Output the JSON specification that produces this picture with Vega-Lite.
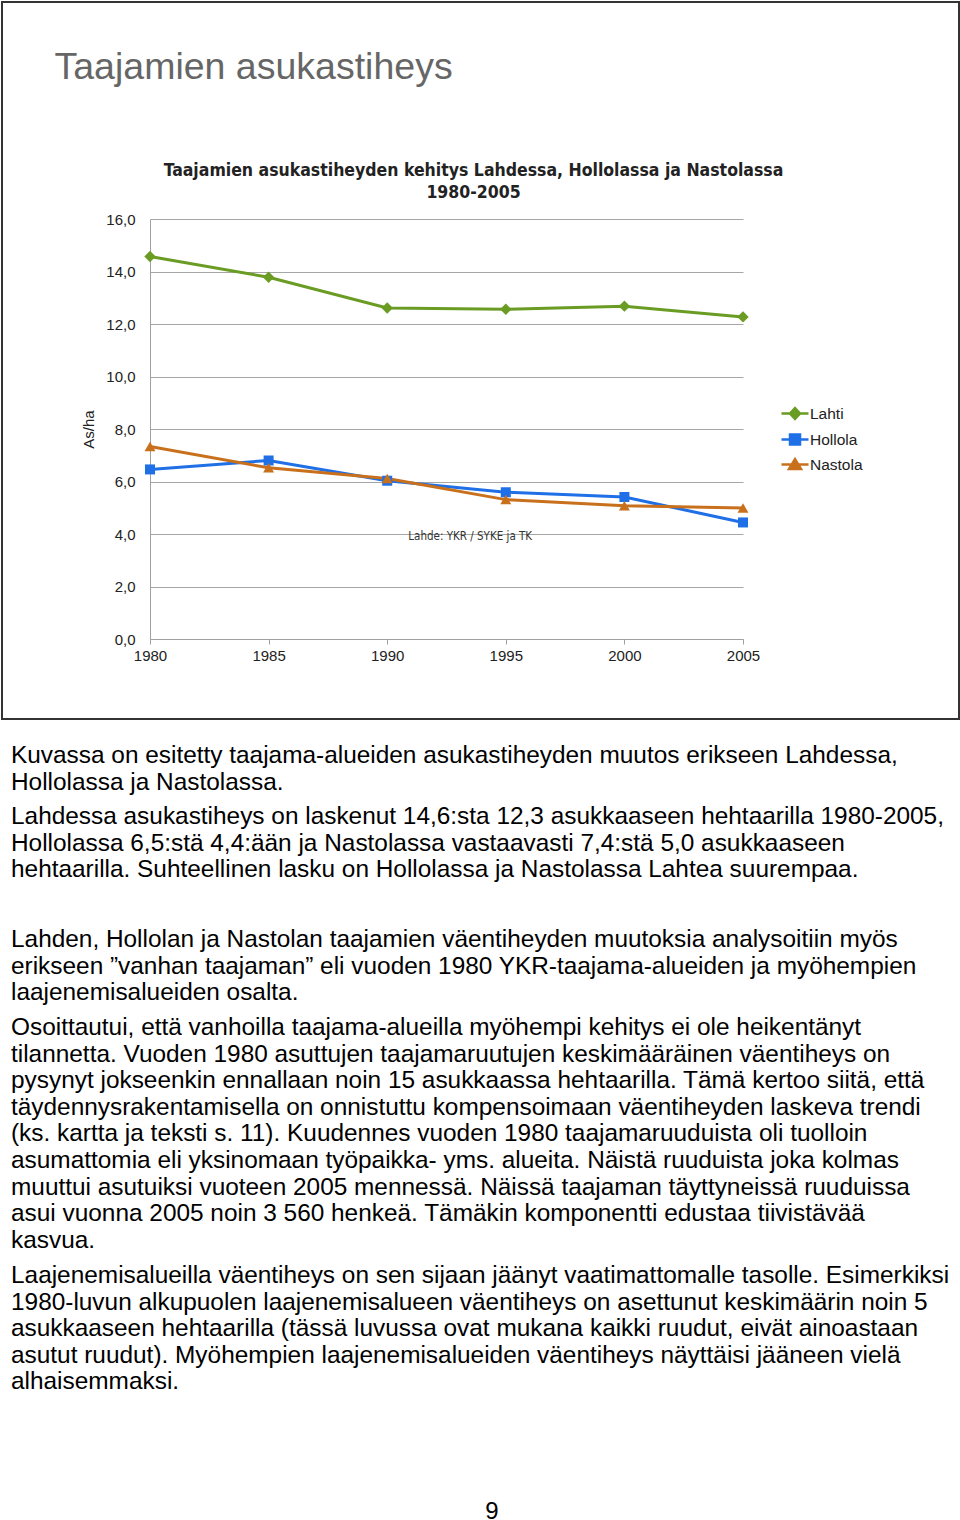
{
  "$schema": "https://vega.github.io/schema/vega-lite/v6.json",
  "background": "white",
  "padding": {"left": 1, "top": 1, "right": 0, "bottom": 0},
  "spacing": 0,
  "config": {
    "view": {"stroke": null},
    "title": {"orient": "bottom", "anchor": "start", "frame": "group", "offset": 0, "dx": 9, "fontSize": 24.4, "lineHeight": 26.6, "font": "Liberation Sans", "fontWeight": "normal", "color": "#000000"}
  },
  "vconcat": [
    {
      "width": 957,
      "height": 717,
      "view": {"stroke": "#333333", "strokeWidth": 2},
      "data": {"values": [
        {"year": 1980, "city": "Lahti", "value": 14.57},
        {"year": 1985, "city": "Lahti", "value": 13.78},
        {"year": 1990, "city": "Lahti", "value": 12.61},
        {"year": 1995, "city": "Lahti", "value": 12.56},
        {"year": 2000, "city": "Lahti", "value": 12.68},
        {"year": 2005, "city": "Lahti", "value": 12.27},
        {"year": 1980, "city": "Hollola", "value": 6.46},
        {"year": 1985, "city": "Hollola", "value": 6.8},
        {"year": 1990, "city": "Hollola", "value": 6.03},
        {"year": 1995, "city": "Hollola", "value": 5.59},
        {"year": 2000, "city": "Hollola", "value": 5.41},
        {"year": 2005, "city": "Hollola", "value": 4.44},
        {"year": 1980, "city": "Nastola", "value": 7.33},
        {"year": 1985, "city": "Nastola", "value": 6.52},
        {"year": 1990, "city": "Nastola", "value": 6.11},
        {"year": 1995, "city": "Nastola", "value": 5.31},
        {"year": 2000, "city": "Nastola", "value": 5.08},
        {"year": 2005, "city": "Nastola", "value": 4.99}
      ]},
      "layer": [
        {
          "mark": {"type": "line", "strokeWidth": 3},
          "encoding": {
            "x": {"field": "year", "type": "quantitative",
              "scale": {"domain": [1980, 2005], "range": [148, 741], "nice": false, "zero": false},
              "axis": {"orient": "bottom", "offset": -80, "values": [1980, 1985, 1990, 1995, 2000, 2005], "format": "d", "grid": false, "domain": true, "domainColor": "#a0a0a0", "ticks": true, "tickColor": "#a0a0a0", "tickSize": 5, "labelFontSize": 15, "labelColor": "#222222", "labelFont": "Liberation Sans", "labelPadding": 4, "labelFlush": false, "labelOverlap": false, "title": null, "minExtent": 0}},
            "y": {"field": "value", "type": "quantitative",
              "scale": {"domain": [0, 16], "range": [637, 217], "nice": false},
              "axis": {"orient": "left", "offset": -148, "values": [0, 2, 4, 6, 8, 10, 12, 14, 16], "labelExpr": "replace(format(datum.value, '.1f'), '.', ',')", "grid": true, "gridColor": "#a6a6a6", "gridWidth": 1, "domain": true, "domainColor": "#a0a0a0", "ticks": false, "tickSize": 0, "labelPadding": 15, "labelFontSize": 15, "labelColor": "#222222", "labelFont": "Liberation Sans", "title": "As/ha", "titleFont": "Liberation Sans", "titleFontSize": 15, "titleFontWeight": "normal", "titleColor": "#222222", "titlePadding": 9, "minExtent": 0}},
            "color": {"field": "city", "type": "nominal",
              "scale": {"domain": ["Lahti", "Hollola", "Nastola"], "range": ["#6a9c23", "#1f6fe6", "#c8701c"]},
              "legend": {"orient": "none", "legendX": 779, "legendY": 397.5, "title": null, "symbolType": "stroke", "symbolSize": 625, "symbolStrokeWidth": 2.5, "rowPadding": 1, "padding": 0, "labelFontSize": 15.5, "labelFont": "Liberation Sans", "labelColor": "#222222", "labelOffset": 1,
                "encode": {"symbols": {"update": {
                  "shape": {"signal": "datum.value === 'Lahti' ? 'M-1.08,0L1.08,0M0,-0.44L0.4,0L0,0.44L-0.4,0Z' : datum.value === 'Hollola' ? 'M-1.08,0L1.08,0M-0.4,-0.4L0.4,-0.4L0.4,0.4L-0.4,0.4Z' : 'M-1.08,0L1.08,0M0,-0.42L0.48,0.36L-0.48,0.36Z'"},
                  "fill": {"scale": "color", "field": "value"},
                  "fillOpacity": {"value": 1},
                  "stroke": {"scale": "color", "field": "value"},
                  "strokeOpacity": {"value": 1},
                  "strokeWidth": {"value": 2.5}
                }}}}}
          }
        },
        {
          "transform": [{"filter": {"field": "city", "equal": "Lahti"}}],
          "mark": {"type": "point", "filled": true, "opacity": 1, "shape": "diamond", "size": 130, "color": "#6a9c23"},
          "encoding": {
            "x": {"field": "year", "type": "quantitative",
              "axis": {"orient": "top", "offset": 0, "labels": false, "ticks": false, "domain": false, "grid": false, "minExtent": 0, "maxExtent": 0,
                "title": ["Taajamien asukastiheyden kehitys Lahdessa, Hollolassa ja Nastolassa", "1980-2005"],
                "titleX": 471, "titleY": 173, "titleAlign": "center", "titleBaseline": "alphabetic", "titleAngle": 0,
                "titleFont": "DejaVu Sans Condensed, Liberation Sans, sans-serif", "titleFontSize": 17.5, "titleFontWeight": "bold", "titleColor": "#222222", "titleLineHeight": 22}},
            "y": {"field": "value", "type": "quantitative"}
          }
        },
        {
          "transform": [{"filter": {"field": "city", "equal": "Hollola"}}],
          "mark": {"type": "point", "filled": true, "opacity": 1, "shape": "square", "size": 100, "color": "#1f6fe6"},
          "encoding": {
            "x": {"field": "year", "type": "quantitative", "axis": null},
            "y": {"field": "value", "type": "quantitative"}
          }
        },
        {
          "transform": [{"filter": {"field": "city", "equal": "Nastola"}}],
          "mark": {"type": "point", "filled": true, "opacity": 1, "shape": "triangle-up", "size": 120, "color": "#c8701c"},
          "encoding": {
            "x": {"field": "year", "type": "quantitative", "axis": null},
            "y": {"field": "value", "type": "quantitative"}
          }
        },
        {
          "data": {"values": [{"label": "Lahde: YKR / SYKE ja TK"}]},
          "mark": {"type": "text", "font": "DejaVu Sans Condensed, Liberation Sans, sans-serif", "fontSize": 11.5, "color": "#333333"},
          "encoding": {
            "x": {"datum": 1993.5, "type": "quantitative",
              "axis": {"orient": "top", "offset": 0, "labels": false, "ticks": false, "domain": false, "grid": false, "minExtent": 0, "maxExtent": 0,
                "title": "Taajamien asukastiheys",
                "titleX": 52, "titleY": 76, "titleAlign": "left", "titleBaseline": "alphabetic", "titleAngle": 0,
                "titleFont": "Liberation Sans", "titleFontSize": 37.5, "titleFontWeight": "normal", "titleColor": "#666666"}},
            "y": {"datum": 3.87, "type": "quantitative"},
            "text": {"field": "label"}
          }
        }
      ],
      "resolve": {"axis": {"x": "independent"}}
    },
    {
      "width": 957, "height": 20,
      "data": {"values": []},
      "mark": "text",
      "title": {"text": ["Kuvassa on esitetty taajama-alueiden asukastiheyden muutos erikseen Lahdessa,", "Hollolassa ja Nastolassa."]}
    },
    {
      "width": 957, "height": 7,
      "data": {"values": []},
      "mark": "text",
      "title": {"text": ["Lahdessa asukastiheys on laskenut 14,6:sta 12,3 asukkaaseen hehtaarilla 1980-2005,", "Hollolassa 6,5:stä 4,4:ään ja Nastolassa vastaavasti 7,4:stä 5,0 asukkaaseen", "hehtaarilla. Suhteellinen lasku on Hollolassa ja Nastolassa Lahtea suurempaa."]}
    },
    {
      "width": 957, "height": 42,
      "data": {"values": []},
      "mark": "text",
      "title": {"text": ["Lahden, Hollolan ja Nastolan taajamien väentiheyden muutoksia analysoitiin myös", "erikseen ”vanhan taajaman” eli vuoden 1980 YKR-taajama-alueiden ja myöhempien", "laajenemisalueiden osalta."]}
    },
    {
      "width": 957, "height": 7,
      "data": {"values": []},
      "mark": "text",
      "title": {"text": ["Osoittautui, että vanhoilla taajama-alueilla myöhempi kehitys ei ole heikentänyt", "tilannetta. Vuoden 1980 asuttujen taajamaruutujen keskimääräinen väentiheys on", "pysynyt jokseenkin ennallaan noin 15 asukkaassa hehtaarilla. Tämä kertoo siitä, että", "täydennysrakentamisella on onnistuttu kompensoimaan väentiheyden laskeva trendi", "(ks. kartta ja teksti s. 11). Kuudennes vuoden 1980 taajamaruuduista oli tuolloin", "asumattomia eli yksinomaan työpaikka- yms. alueita. Näistä ruuduista joka kolmas", "muuttui asutuiksi vuoteen 2005 mennessä. Näissä taajaman täyttyneissä ruuduissa", "asui vuonna 2005 noin 3 560 henkeä. Tämäkin komponentti edustaa tiivistävää", "kasvua."]}
    },
    {
      "width": 957, "height": 7,
      "data": {"values": []},
      "mark": "text",
      "title": {"text": ["Laajenemisalueilla väentiheys on sen sijaan jäänyt vaatimattomalle tasolle. Esimerkiksi", "1980-luvun alkupuolen laajenemisalueen väentiheys on asettunut keskimäärin noin 5", "asukkaaseen hehtaarilla (tässä luvussa ovat mukana kaikki ruudut, eivät ainoastaan", "asutut ruudut). Myöhempien laajenemisalueiden väentiheys näyttäisi jääneen vielä", "alhaisemmaksi."]}
    },
    {
      "width": 980, "height": 236,
      "data": {"values": [{"page": "9"}]},
      "mark": {"type": "text", "font": "Liberation Sans", "fontSize": 24, "color": "#000000"},
      "encoding": {"text": {"field": "page", "type": "nominal"}}
    }
  ]
}
